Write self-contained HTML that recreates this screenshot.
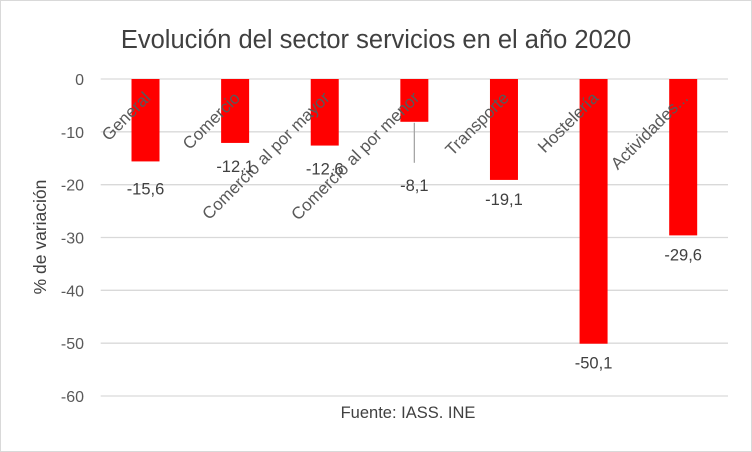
<!DOCTYPE html>
<html><head><meta charset="utf-8"><style>
body{margin:0;background:#fff}
svg{display:block;font-family:"Liberation Sans",Calibri,sans-serif}
</style></head><body>
<svg id="c" width="752" height="452">
<rect x="0.5" y="0.5" width="751" height="451" fill="#fff" stroke="#d9d9d9"/>
<text x="376" y="48" font-size="25.5" fill="#404040" text-anchor="middle">Evolución  del sector servicios en el año 2020</text>
<text transform="translate(46,237) rotate(-90)" font-size="17.5" fill="#404040" text-anchor="middle">% de variación</text>
<text x="408" y="418" font-size="16.5" fill="#404040" text-anchor="middle">Fuente: IASS. INE</text>
<g id="grid"></g><g id="bars"></g><g id="labels"></g>
</svg>
<script>
const categories=["General","Comercio","Comercio al por mayor","Comercio al por menor","Transporte","Hostelería","Actividades..."];
const values=[-15.6,-12.1,-12.6,-8.1,-19.1,-50.1,-29.6];
const yTicks=[0,-10,-20,-30,-40,-50,-60];
const valueLabels=["-15,6","-12,1","-12,6","-8,1","-19,1","-50,1","-29,6"];
const NS="http://www.w3.org/2000/svg";
const x0=100.7,x1=728,y0=79,yScale=(396-79)/60;
const bw=(x1-x0)/categories.length;
const y=v=>y0-v*yScale;
const cx=i=>x0+(i+0.5)*bw;
function mk(t,a,p){const e=document.createElementNS(NS,t);for(const k in a)e.setAttribute(k,a[k]);p.appendChild(e);return e;}
const g=document.getElementById('grid'),b=document.getElementById('bars'),l=document.getElementById('labels');
yTicks.forEach(t=>{
 const ln=mk('line',{x1:x0,x2:x1,y1:y(t),y2:y(t),stroke:'#d9d9d9','stroke-width':1.3},g);
 
 
 const tx=mk('text',{x:84,y:y(t)+6,'font-size':16,fill:'#595959','text-anchor':'end'},g);
 tx.textContent=t;
 
 
});
values.forEach((v,i)=>{
 const r=mk('rect',{x:cx(i)-14,y:y0,width:28,height:y(v)-y0,fill:'#ff0000'},b);
 
 
 const c=mk('text',{transform:`translate(${cx(i)+6},${y0+20}) rotate(-45)`,'font-size':17,fill:'#595959','text-anchor':'end'},l);
 c.textContent=categories[i];
 
 
 let ly=y(v)+25;
 if(i===1||i===2)ly=y(v)+29;
 if(i===0)ly=y(v)+33;
 if(i===3){
  const ld=mk('line',{x1:cx(i),x2:cx(i),y1:y(v)+1,y2:y(v)+41,stroke:'#a6a6a6','stroke-width':1.3},l);
  
  
  ly=y(v)+69;}
 const vt=mk('text',{x:cx(i),y:ly,'font-size':16.5,fill:'#404040','text-anchor':'middle'},l);
 vt.textContent=valueLabels[i];
 
 
});
</script>
</body></html>
